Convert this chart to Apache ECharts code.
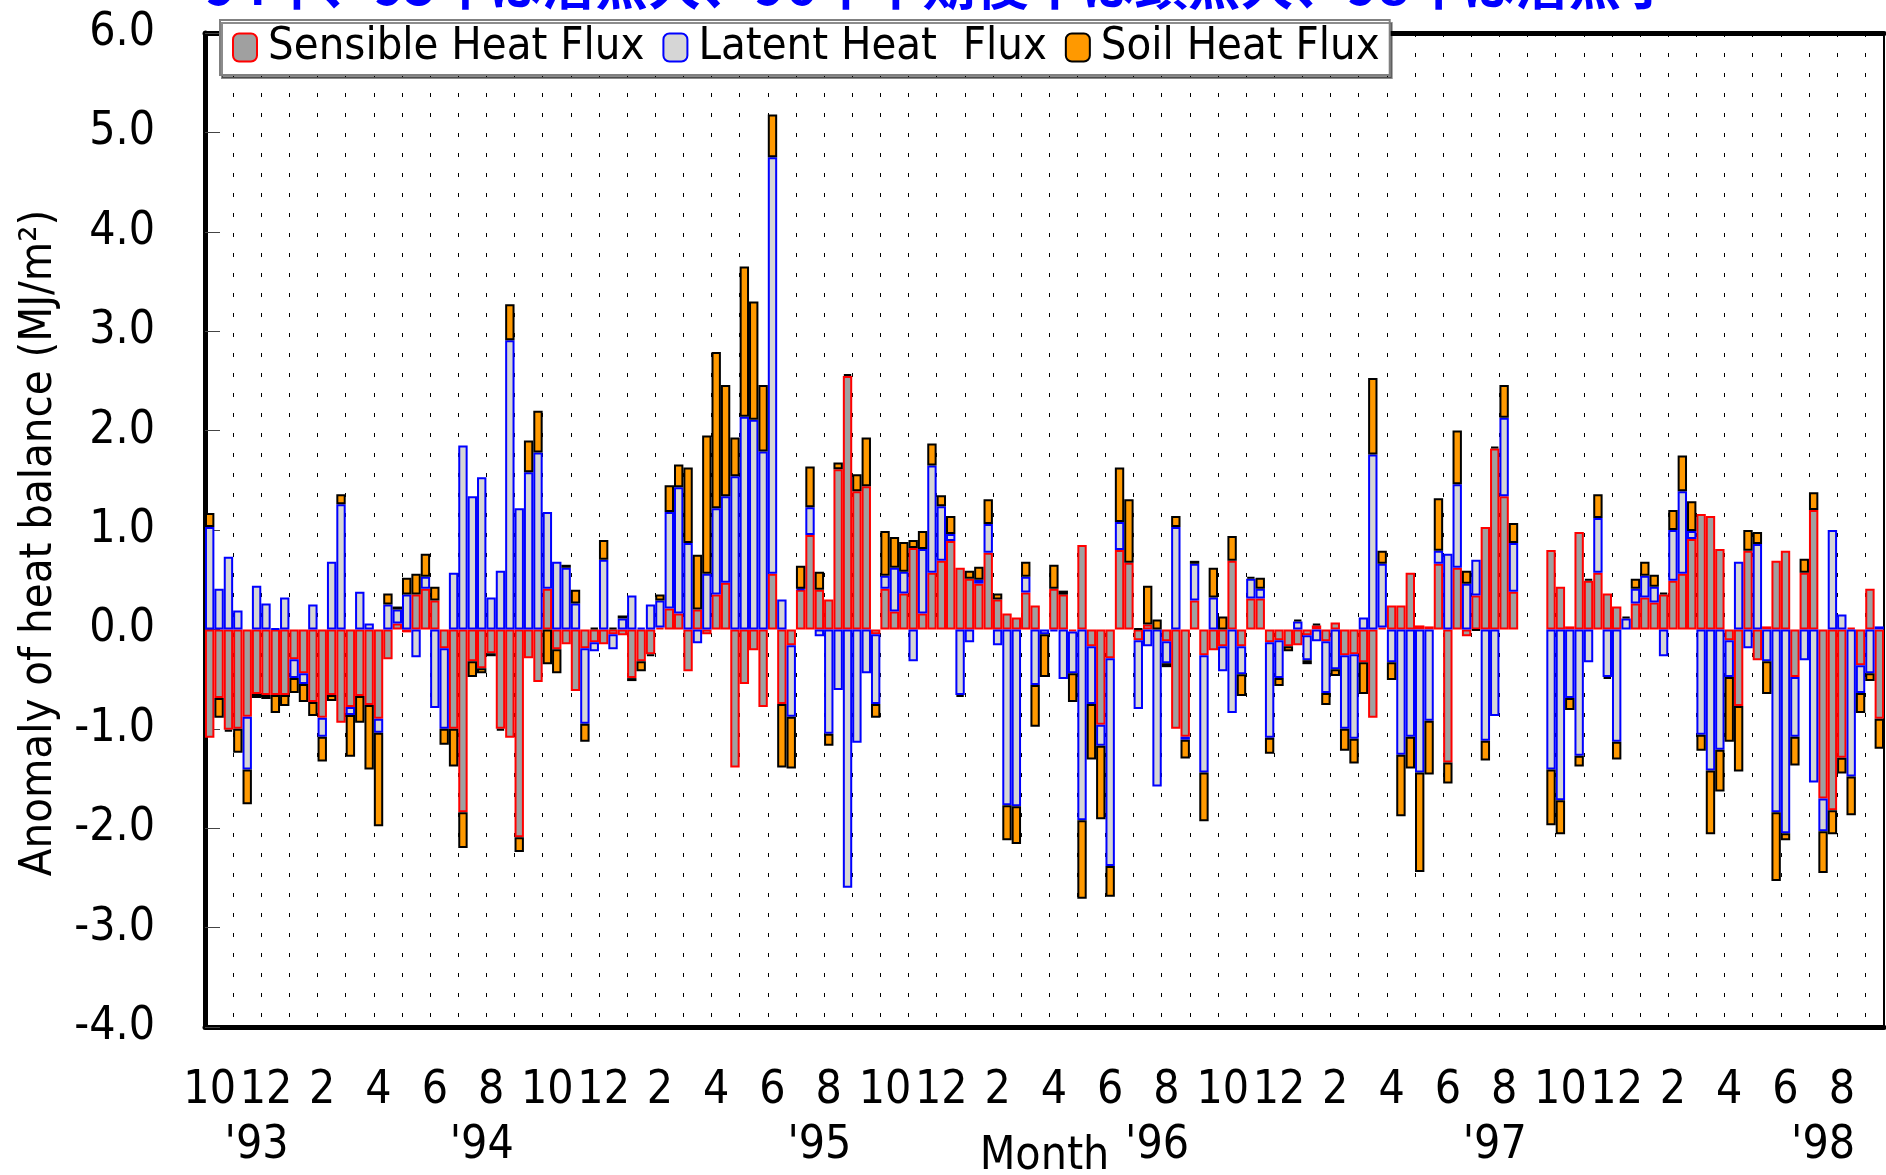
<!DOCTYPE html>
<html>
<head>
<meta charset="utf-8">
<title>Anomaly of heat balance</title>
<script src="https://cdn.jsdelivr.net/npm/echarts@6/dist/echarts.min.js"></script>
<style>
  html, body { margin: 0; padding: 0; background: #fff; }
  #chart { width: 1886px; height: 1175px; }
</style>
</head>
<body>
<div id="chart"></div>
<script>
// 旬別データ 1993年10月上旬 〜 1998年9月中旬 (179旬)
const startYear = 1993
const startMonth = 10
const dekadCount = 179

const seriesNames = ['Sensible Heat Flux', 'Latent Heat  Flux', 'Soil Heat Flux']

// 顕熱
const sensible = [
  -1.09, -0.69, -1.01, -1.00, -0.88, -0.65, -0.66, -0.66, -0.66, -0.30,
  -0.44, -0.73, -0.89, -0.66, -0.94, -0.78, -0.67, -0.76, -0.90, -0.30,
  0.06, -0.03, 0.35, 0.41, 0.29, -0.19, -1.00, -1.84, -0.32, -0.39,
  -0.24, -1.00, -1.09, -2.09, -0.29, -0.53, 0.41, -0.20, -0.15, -0.62,
  -0.19, -0.13, -0.15, -0.05, -0.06, -0.49, -0.32, -0.25, 0.02, 0.21,
  0.16, -0.42, 0.20, -0.05, 0.35, 0.47, -1.39, -0.55, -0.21, -0.78,
  0.56, -0.75, -0.16, 0.40, 0.95, 0.40, 0.30, 1.61, 2.55, 1.39,
  1.44, -0.05, 0.41, 0.18, 0.36, 0.82, 0.16, 0.57, 0.69, 0.89,
  0.62, 0.51, 0.46, 0.77, 0.30, 0.16, 0.12, 0.37, 0.24, null,
  0.41, 0.35, -0.02, 0.85, -0.17, -0.96, -0.29, 0.80, 0.67, -0.11,
  0.05, null, -0.12, -1.00, -1.08, 0.29, -0.26, -0.21, -0.17, 0.69,
  -0.17, 0.31, 0.31, -0.13, -0.11, -0.17, -0.16, -0.06, 0.04, -0.12,
  0.07, -0.26, -0.25, -0.33, -0.89, 0.02, 0.24, 0.24, 0.57, 0.04,
  0.03, 0.66, -1.34, 0.62, -0.07, 0.34, 1.03, 1.82, 1.34, 0.38,
  null, null, null, 0.80, 0.43, 0.03, 0.98, 0.49, 0.57, 0.36,
  0.23, null, 0.26, 0.32, 0.27, 0.35, 0.49, 0.56, 0.91, 1.16,
  1.14, 0.81, -0.11, -0.77, 0.79, -0.31, 0.03, 0.69, 0.79, -0.48,
  0.57, 1.20, -1.70, -1.82, -1.29, 0.02, -0.36, 0.41, -0.90
]

// 潜熱
const latent = [
  1.03, 0.41, 0.73, 0.19, -0.53, 0.44, 0.26, 0.01, 0.32, -0.19,
  -0.11, 0.25, -0.19, 0.68, 1.26, -0.08, 0.38, 0.06, -0.14, 0.25,
  0.14, 0.35, -0.28, 0.12, -0.79, -0.81, 0.57, 1.85, 1.34, 1.53,
  0.32, 0.59, 2.91, 1.22, 1.58, 1.78, 0.77, 0.68, 0.62, 0.26,
  -0.76, -0.09, 0.70, -0.15, 0.11, 0.34, 0.02, 0.25, 0.27, 0.97,
  1.27, 0.87, -0.14, 0.56, 0.87, 0.87, 1.54, 2.14, 2.11, 1.79,
  4.19, 0.30, -0.72, 0.01, 0.28, -0.07, -1.05, -0.61, -2.60, -1.14,
  -0.44, -0.70, 0.13, 0.44, 0.22, -0.32, 0.65, 1.08, 0.55, 0.07,
  -0.66, -0.13, 0.04, 0.29, -0.16, -1.77, -1.78, 0.16, -0.56, -0.05,
  -0.02, -0.50, -0.42, -1.92, -0.58, -0.21, -2.09, 0.28, null, -0.69,
  -0.17, -1.58, -0.22, 1.03, -0.03, 0.37, -1.18, 0.32, -0.25, -0.84,
  -0.28, 0.20, 0.10, -0.96, -0.38, null, 0.08, -0.25, -0.12, -0.52,
  -0.40, -0.74, -0.85, 0.12, 1.76, 0.64, -0.33, -1.26, -1.08, -1.44,
  -0.92, 0.13, 0.76, 0.84, 0.46, 0.36, -1.12, -0.87, 0.79, 0.49,
  null, null, null, -1.41, -1.72, -0.69, -1.27, -0.33, 0.55, -0.48,
  -1.13, 0.11, 0.15, 0.22, 0.16, -0.27, 0.51, 0.83, 0.08, -1.06,
  -1.42, -1.21, -0.37, 0.68, -0.19, 0.86, -0.32, -1.84, -2.05, -0.60,
  -0.31, -1.54, -0.33, 1.00, 0.15, -1.48, -0.28, -0.44, 0.03
]

// 地中伝導熱
const soil = [
  0.14, -0.20, -0.02, -0.24, -0.35, -0.04, -0.04, -0.18, -0.11, -0.15,
  -0.18, -0.14, -0.25, -0.06, 0.10, -0.42, -0.27, -0.65, -0.94, 0.11,
  0.03, 0.17, 0.21, 0.23, 0.14, -0.16, -0.38, -0.36, -0.16, -0.05,
  -0.03, -0.02, 0.36, -0.15, 0.32, 0.42, -0.35, -0.24, 0.03, 0.14,
  -0.18, 0.02, 0.20, 0.02, 0.03, -0.03, -0.10, -0.02, 0.06, 0.27,
  0.23, 0.76, 0.55, 1.39, 1.57, 1.12, 0.39, 1.51, 1.19, 0.67,
  0.43, -0.64, -0.52, 0.23, 0.41, 0.18, -0.12, 0.07, 0.02, 0.17,
  0.49, -0.14, 0.45, 0.31, 0.30, 0.08, 0.18, 0.22, 0.11, 0.18,
  -0.02, 0.08, 0.13, 0.25, 0.06, -0.35, -0.38, 0.15, -0.42, -0.43,
  0.24, 0.04, -0.29, -0.79, -0.56, -0.74, -0.31, 0.55, 0.64, 0.01,
  0.39, 0.10, -0.04, 0.11, -0.19, 0.03, -0.49, 0.30, 0.13, 0.25,
  -0.22, 0.02, 0.11, -0.16, -0.08, -0.05, 0.02, -0.04, 0.02, -0.12,
  -0.07, -0.22, -0.25, -0.32, 0.77, 0.13, -0.18, -0.62, -0.32, -1.00,
  -0.54, 0.53, -0.21, 0.54, 0.13, -0.01, -0.20, 0.02, 0.33, 0.20,
  null, null, null, -0.56, -0.34, -0.12, -0.11, 0.02, 0.24, -0.02,
  -0.18, 0.02, 0.10, 0.14, 0.12, 0.02, 0.20, 0.36, 0.30, -0.16,
  -0.64, -0.42, -0.65, -0.66, 0.21, 0.12, -0.33, -0.69, -0.07, -0.29,
  0.14, 0.18, -0.42, -0.24, -0.16, -0.39, -0.20, -0.08, -0.30
]

// 年ラベル (置かれている旬の位置)
const yearLabels = ["'93", "'94", "'95", "'96", "'97", "'98"]
const yearLabelAt = [5, 29, 65, 101, 137, 172]

const titleText = '94年、95年は潜熱大、96年中期後半は顕熱大、98年は潜熱小'

// カテゴリ (年/月/旬)
const categories = []
for (let i = 0; i < dekadCount; i++) {
  const m0 = startMonth - 1 + Math.floor(i / 3)
  const y = startYear + Math.floor(m0 / 12)
  const m = (m0 % 12) + 1
  categories.push(y + '/' + m + '/' + (i % 3 + 1))
}
const yearByIndex = {}
yearLabelAt.forEach((idx, k) => { yearByIndex[idx] = yearLabels[k] })

const FONT = "'Liberation Sans Narrow', 'Arial Narrow', 'DejaVu Sans Condensed', sans-serif"
const FS = 46

const barStyle = (fill, border) => ({
  color: fill,
  borderColor: border,
  borderWidth: 2
})

const option = {
  backgroundColor: '#fff',
  animation: false,
  title: {
    text: titleText,
    left: 200,
    top: -47,
    textStyle: {
      color: '#0000ff',
      fontSize: 53,
      fontWeight: 'bold',
      fontFamily: "'Noto Sans CJK JP', sans-serif"
    }
  },
  legend: {
    left: 220,
    top: 20,
    data: seriesNames,
    backgroundColor: '#fff',
    borderColor: '#808080',
    borderWidth: 2,
    shadowColor: 'rgba(0,0,0,0.45)',
    shadowOffsetX: 2,
    shadowOffsetY: 3,
    padding: [5, 10, 5, 12],
    itemWidth: 24,
    itemHeight: 28,
    itemGap: 18,
    textStyle: {
      fontFamily: FONT,
      fontSize: 45,
      color: '#000',
      padding: [0, 0, 0, 6]
    }
  },
  grid: {
    left: 205,
    right: 2,
    top: 33,
    bottom: 148,
    outerBoundsMode: 'none'
  },
  xAxis: [{
    type: 'category',
    data: categories,
    position: 'bottom',
    axisLine: { onZero: false, lineStyle: { color: '#000', width: 5 } },
    axisTick: {
      inside: true,
      length: 11,
      interval: 2,
      lineStyle: { color: '#000', width: 1.5 }
    },
    axisLabel: {
      interval: 5,
      showMinLabel: true,
      margin: 41,
      color: '#000',
      fontFamily: FONT,
      fontSize: FS,
      formatter: v => v.split('/')[1]
    },
    splitLine: {
      show: true,
      interval: 2,
      lineStyle: { color: '#000', width: 1, type: [4, 16] }
    },
    name: 'Month',
    nameLocation: 'middle',
    nameGap: 107,
    nameTextStyle: { color: '#000', fontFamily: FONT, fontSize: FS }
  }, {
    type: 'category',
    data: categories,
    position: 'bottom',
    axisLine: { show: false, onZero: false },
    axisTick: { show: false },
    axisLabel: {
      interval: 0,
      showMinLabel: true,
      margin: 96,
      color: '#000',
      fontFamily: FONT,
      fontSize: FS,
      formatter: (v, i) => yearByIndex[i] || ''
    },
    splitLine: { show: false }
  }, {
    type: 'category',
    data: categories,
    position: 'top',
    axisLine: { onZero: false, lineStyle: { color: '#000', width: 5 } },
    axisTick: { show: false },
    axisLabel: { show: false },
    splitLine: { show: false }
  }],
  yAxis: [{
    type: 'value',
    min: -4,
    max: 6,
    interval: 1,
    axisLine: { show: true, onZero: false, lineStyle: { color: '#000', width: 5 } },
    axisTick: {
      show: true,
      inside: true,
      length: 15,
      lineStyle: { color: '#444', width: 1 }
    },
    axisLabel: {
      margin: 50,
      color: '#000',
      fontFamily: FONT,
      fontSize: FS,
      formatter: v => v.toFixed(1)
    },
    splitLine: { show: false },
    name: 'Anomaly of heat balance (MJ/m²)',
    nameLocation: 'middle',
    nameRotate: 90,
    nameGap: 143,
    nameTextStyle: {
      color: '#000',
      fontFamily: FONT,
      fontSize: 45,
      padding: [0, 26, 0, 0]
    }
  }, {
    type: 'value',
    min: -4,
    max: 6,
    interval: 1,
    position: 'right',
    axisLine: { show: true, onZero: false, lineStyle: { color: '#000', width: 2 } },
    axisTick: { show: false },
    axisLabel: { show: false },
    splitLine: { show: false }
  }],
  series: [{
    name: seriesNames[0],
    type: 'bar',
    stack: 'heat',
    barCategoryGap: '0%',
    itemStyle: barStyle('#a0a0a0', '#ff0000'),
    data: sensible
  }, {
    name: seriesNames[1],
    type: 'bar',
    stack: 'heat',
    barCategoryGap: '0%',
    itemStyle: barStyle('#d6d6d6', '#0000ff'),
    data: latent
  }, {
    name: seriesNames[2],
    type: 'bar',
    stack: 'heat',
    barCategoryGap: '0%',
    itemStyle: barStyle('#ff9900', '#000000'),
    data: soil
  }]
}

const myChart = echarts.init(document.getElementById('chart'))
myChart.setOption(option)
</script>
</body>
</html>
